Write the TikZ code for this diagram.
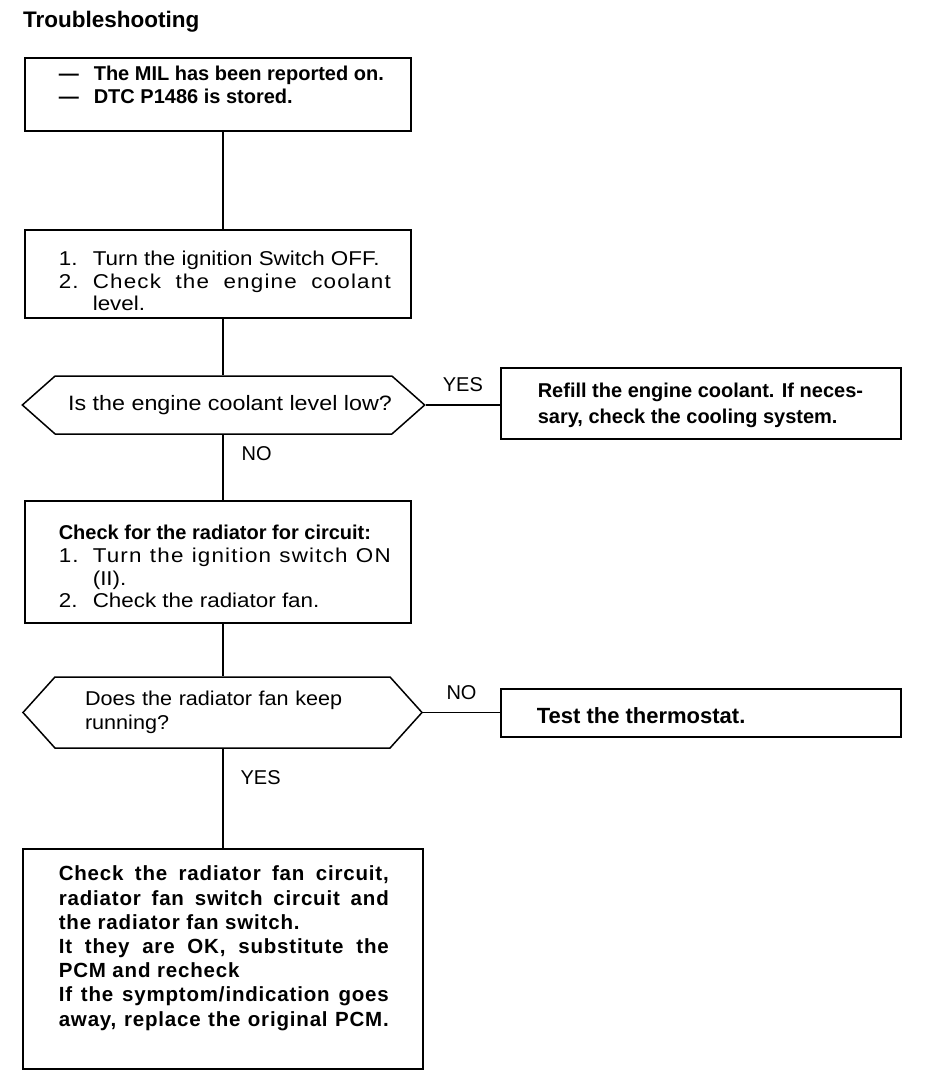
\documentclass[tikz,border=0pt]{standalone}
\usepackage{fontspec}
\setmainfont{Liberation Sans}
\newfontfamily\widefont[FakeStretch=1.12]{Liberation Sans}
\newfontfamily\trackwide[FakeStretch=1.12, LetterSpace=6]{Liberation Sans}
\newfontfamily\trackbold[LetterSpace=4]{Liberation Sans}
\newfontfamily\hexfont[FakeStretch=1.08]{Liberation Sans}
\usetikzlibrary{shapes.symbols}

\newcommand\toppad[1]{\rule{0pt}{#1}}
\newcommand\botpad[1]{\rule[-#1]{0pt}{0pt}}
% box text: width, left margin, lines
\newcommand\boxtext[3]{\parbox{#1}{\leftskip=#2\noindent #3\par}}
% justified line in the small boxes
\newcommand\fullline[1]{\makebox[332pt][s]{\trackwide #1}}
\newcommand\fullbold[1]{\makebox[330pt][s]{\trackbold\bfseries #1}}

\tikzset{
	box/.style={draw, line width=1.6pt, anchor=north west, inner sep=0pt},
	hexa/.style={draw, line width=1.5pt, shape=signal, signal to=west and east, inner sep=0pt},
	link/.style={line width=1.2pt},
	lab/.style={inner sep=0pt, font=\fontsize{20}{23}\selectfont},
}

\begin{document}
\begin{tikzpicture}[x=1pt, y=-1pt]
	\fill[white] (0,0) rectangle (944,1082);
	\useasboundingbox (0,0) rectangle (944,1082);

	\node[anchor=base west, inner sep=0pt, font=\bfseries\fontsize{22.5}{27}\selectfont] (title) at (23,27) {Troubleshooting};

	% left column
	\node[box, font=\bfseries\fontsize{20}{23}\selectfont] (start) at (24,57) {\boxtext{386pt}{34pt}{\toppad{23pt}\makebox[35pt][l]{\textemdash}The MIL has been reported on.\\
		\makebox[35pt][l]{\textemdash}DTC P1486 is stored.\botpad{27pt}}};
	\node[box, font=\widefont\fontsize{20}{22.5}\selectfont] (off) at (24,229) {\boxtext{386pt}{34pt}{\toppad{36pt}\makebox[34pt][l]{1.}Turn the ignition Switch OFF.\\
		\fullline{\makebox[34pt][l]{2.}Check the engine coolant}\\
		\hspace*{34pt}level.\botpad{7pt}}};
	\node[hexa, minimum width=397pt, minimum height=58pt, signal pointer angle=83, font=\widefont\fontsize{20.8}{23}\selectfont] (level) at (223.5,405) {\hspace*{13pt}Is the engine coolant level low?};
	\node[box, font=\widefont\fontsize{20}{22.7}\selectfont] (circuit) at (24,500) {\boxtext{386pt}{34pt}{\toppad{39pt}{\normalfont\bfseries Check for the radiator for circuit:}\\
		\fullline{\makebox[34pt][l]{1.}Turn the ignition switch ON}\\
		\hspace*{34pt}(II).\\
		\makebox[34pt][l]{2.}Check the radiator fan.\botpad{15pt}}};
	\node[hexa, minimum width=399pt, minimum height=71pt, signal pointer angle=96, text width=275pt, align=left, font=\hexfont\fontsize{20}{24}\selectfont] (fan) at (222.5,712.5) {Does the radiator fan keep\\running?};
	\node[box, font=\trackbold\bfseries\fontsize{20.5}{24.2}\selectfont] (pcm) at (22,848) {\boxtext{400pt}{36pt}{\toppad{32pt}\fullbold{Check the radiator fan circuit,}\\
		\fullbold{radiator fan switch circuit and}\\
		the radiator fan switch.\\
		\fullbold{It they are OK, substitute the}\\
		PCM and recheck\\
		\fullbold{If the symptom/indication goes}\\
		\fullbold{away, replace the original PCM.}\botpad{43pt}}};

	% right column
	\node[box, font=\bfseries\fontsize{20}{26}\selectfont] (refill) at (500,367) {\boxtext{400pt}{37pt}{\toppad{30pt}Refill the engine coolant. If neces-\\
		sary, check the cooling system.\botpad{15pt}}};
	\node[box, font=\bfseries\fontsize{22}{24}\selectfont] (thermo) at (500,688) {\boxtext{400pt}{36pt}{\toppad{34.5pt}Test the thermostat.\botpad{13.5pt}}};

	% connectors
	\coordinate (spine) at (223,0);
	\draw[link] (start.south -| spine) -- (off.north -| spine);
	\draw[link] (off.south -| spine) -- (level.north -| spine);
	\draw[link] (level.east) -- node[lab, above=13pt] {YES} (level.east -| refill.west);
	\draw[link] (level.south -| spine) -- node[lab, pos=.29, right=18pt] {NO} (circuit.north -| spine);
	\draw[link] (circuit.south -| spine) -- (fan.north -| spine);
	\draw[link] (fan.east) -- node[lab, above=12pt] {NO} (fan.east -| thermo.west);
	\draw[link] (fan.south -| spine) -- node[lab, pos=.29, right=17pt] {YES} (pcm.north -| spine);
\end{tikzpicture}
\end{document}
